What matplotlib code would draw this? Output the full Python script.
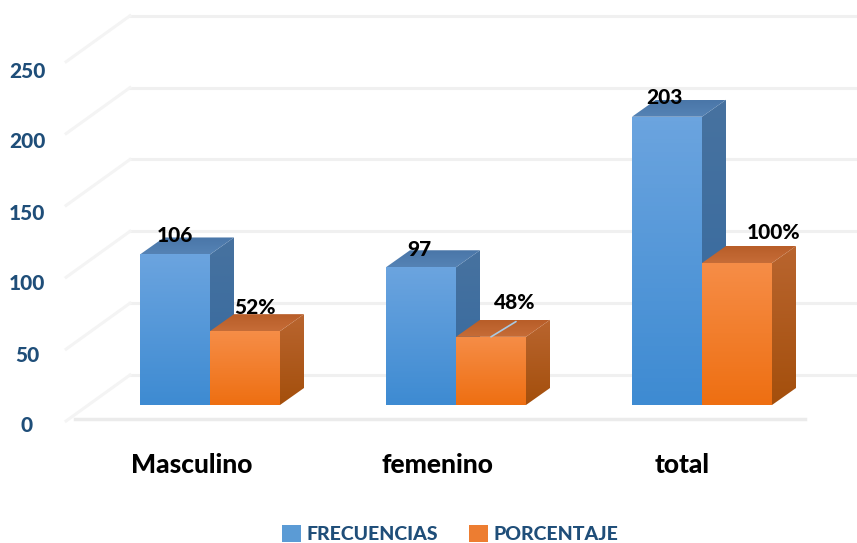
import numpy as np
import matplotlib
matplotlib.use('Agg')
import matplotlib.pyplot as plt
from matplotlib.colors import LinearSegmentedColormap
from matplotlib.patches import Patch, Polygon

plt.rcParams['font.family'] = ['Lato', 'DejaVu Sans']

categories = ['Masculino', 'femenino', 'total']
frecuencias = [106, 97, 203]
porcentaje = [52, 48, 100]
porcentaje_labels = ['52%', '48%', '100%']
y_ticks = [0, 50, 100, 150, 200, 250]

# px per unit of each axis, the axes fill the whole figure
PX_X = 246.0
PX_Y = 1.42

fig = plt.figure(figsize=(8.57, 5.43), dpi=100)
ax = fig.add_axes([0, 0, 1, 1])
ax.set_axis_off()


def shaded(corners, top, bottom, zorder):
    # polygon filled by a vertical gradient
    xs = [c[0] for c in corners]
    ys = [c[1] for c in corners]
    cmap = LinearSegmentedColormap.from_list('g', [top, bottom])
    im = ax.imshow(np.linspace(0, 1, 64).reshape(-1, 1), cmap=cmap, aspect='auto',
                   extent=(min(xs), max(xs), min(ys), max(ys)), zorder=zorder)
    poly = Polygon(corners, closed=True, transform=ax.transData, fc='none', ec='none')
    ax.add_patch(poly)
    im.set_clip_path(poly)


def bar3d(left, value, width, colors, zorder):
    dx = 24 / PX_X
    dy = 17 / PX_Y
    right = left + width
    shaded([(left, 0), (right, 0), (right, value), (left, value)], colors[0], colors[1], zorder + 0.2)
    shaded([(right, 0), (right + dx, dy), (right + dx, value + dy), (right, value)], colors[2], colors[3], zorder)
    shaded([(left, value), (right, value), (right + dx, value + dy), (left + dx, value + dy)],
           colors[4], colors[5], zorder + 0.1)


blue = ['#6ba4df', '#3e8bd2', '#47729f', '#34699f', '#4a76a8', '#5583b5']
orange = ['#f68d47', '#ee6f12', '#b9652f', '#a44f0c', '#b85d28', '#c66d38']

# back wall, floor and side lines
wall_left = -80 / PX_X
wall_base = 30 / PX_Y
front_base = -14 / PX_Y
for v in y_ticks:
    wall_y = wall_base + v * 1.012
    ax.plot([wall_left, 2.627], [wall_y, wall_y], color='#f0f0f0', lw=2.2, zorder=1)
    ax.plot([-0.585, wall_left], [wall_y - 46 / PX_Y, wall_y], color='#f4f4f4', lw=2.2, zorder=1)
ax.plot([-0.55, 2.42], [front_base, front_base], color='#ebebeb', lw=2.5, zorder=1)

width = 70 / PX_X
x = np.arange(len(categories))
for i in x:
    bar3d(i - width, frecuencias[i], width, blue, 3 + 2 * i)
    bar3d(i, porcentaje[i], width, orange, 4 + 2 * i)

# data labels, offsets in points from the front top of each bar
blue_offset = [(0, 14), (-1, 13), (-2, 14)]
orange_offset = [(7, 17), (17, 25), (26, 22)]
for i in x:
    ax.annotate(str(frecuencias[i]), xy=(i - width / 2, frecuencias[i]), xytext=blue_offset[i],
                textcoords='offset points', ha='center', va='center', fontsize=15,
                fontweight='black', color='black', zorder=20)
    ax.annotate(porcentaje_labels[i], xy=(i + width / 2, porcentaje[i]), xytext=orange_offset[i],
                textcoords='offset points', ha='center', va='center', fontsize=15,
                fontweight='black', color='black', zorder=20)
ax.annotate('', xy=(1 + width / 2, porcentaje[1]), xytext=(18, 11), textcoords='offset points',
            arrowprops=dict(arrowstyle='-', color='#a9cbe4', lw=1.2, shrinkA=0, shrinkB=0), zorder=20)

# y labels sit on the front edge, below the bars' base
for v in y_ticks:
    ax.text(-183 / PX_X, v - 21 / PX_Y, str(v), ha='center', va='center',
            fontsize=15, fontweight='black', color='#1f4e79', zorder=20)

label_x = [-0.073, -0.077, -0.08]
for i in x:
    ax.text(i + label_x[i], -42, categories[i], ha='center', va='center', fontsize=19,
            fontweight='black', color='black', zorder=20)

handles = [Patch(facecolor='#5b9bd5', label='FRECUENCIAS'), Patch(facecolor='#ed7d31', label='PORCENTAJE')]
fig.legend(handles=handles, loc='center', bbox_to_anchor=(450 / 857, 1 - 534 / 543), ncol=2,
           frameon=False, labelcolor='#1f4e79', handlelength=1.0, handleheight=1.0,
           handletextpad=0.25, columnspacing=1.6, prop={'weight': 'black', 'size': 14})

ax.set_xlim(-210 / PX_X, (857 - 210) / PX_X)
ax.set_ylim(-138 / PX_Y, 405 / PX_Y)

fig.savefig('out.png', dpi=100)
